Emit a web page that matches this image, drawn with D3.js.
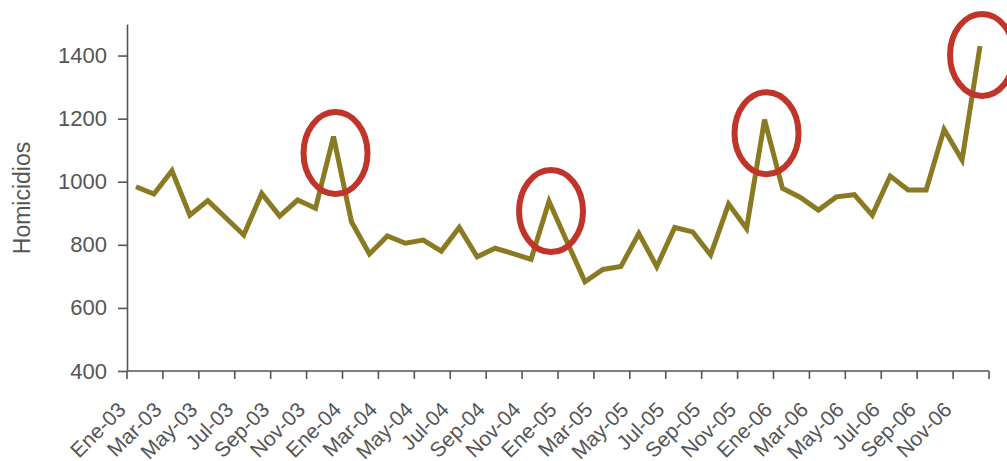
<!DOCTYPE html>
<html>
<head>
<meta charset="utf-8">
<script src="https://cdn.jsdelivr.net/npm/d3@7"></script>
<style>
  body { margin: 0; background: #fff; }
  svg { display: block; }
  text { font-family: "Liberation Sans", Arial, sans-serif; fill: #555; }
</style>
</head>
<body>
<div id="chart"></div>
<script>
const months = ['Ene', 'Feb', 'Mar', 'Abr', 'May', 'Jun', 'Jul', 'Ago', 'Sep', 'Oct', 'Nov', 'Dic'];
const years = ['03', '04', '05', '06'];
const categories = years.flatMap(y => months.map(m => `${m}-${y}`));

// homicidios por mes, Ene-03 .. Dic-06
const homicidios = [
  984, 961, 1035, 894, 940, 886, 831, 963, 891, 942, 916, 1143,
  873, 771, 828, 805, 815, 780, 855, 762, 789, 772, 754, 938,
  810, 683, 722, 731, 836, 731, 855, 841, 768, 929, 852, 1197,
  979, 950, 910, 952, 959, 894, 1018, 974, 974, 1166, 1069, 1430
];

const yTicks = [400, 600, 800, 1000, 1200, 1400];

// red circles around the December peaks (category, centre value)
const marks = [
  { cat: 'Dic-03', value: 1091 },
  { cat: 'Dic-04', value: 907 },
  { cat: 'Dic-05', value: 1154 },
  { cat: 'Dic-06', value: 1402 }
];

const width = 1007, height = 461;
const svg = d3.select('#chart').append('svg').attr('width', width).attr('height', height);

const x = d3.scaleBand().domain(categories).range([127, 989]).padding(0);
const y = d3.scaleLinear().domain([400, 1500]).range([371, 24]);
const cx = d => x(d) + x.bandwidth() / 2;

// y axis
const yAxis = svg.append('g').attr('transform', 'translate(127,0)')
  .call(d3.axisLeft(y).tickValues(yTicks).tickFormat(d3.format('d'))
    .tickSize(9).tickPadding(11).tickSizeOuter(0));
yAxis.select('.domain').attr('stroke', '#555').attr('stroke-width', 1.6);
yAxis.selectAll('.tick line').attr('stroke', '#555').attr('stroke-width', 1.6);
yAxis.selectAll('.tick text').attr('font-size', 22).attr('fill', '#555')
  .attr('font-family', '"Liberation Sans", Arial, sans-serif');

// x axis: ticks every two months on the category boundaries
const tickPos = d3.range(0, categories.length + 1, 2).map(i => 127 + i * x.bandwidth());
const xg = svg.append('g');
xg.append('line')
  .attr('x1', 127).attr('x2', 989).attr('y1', y(400)).attr('y2', y(400))
  .attr('stroke', '#555').attr('stroke-width', 1.6);
xg.selectAll('line.tick')
  .data(tickPos)
  .enter()
  .append('line')
  .attr('class', 'tick')
  .attr('x1', d => d).attr('x2', d => d)
  .attr('y1', y(400)).attr('y2', y(400) + 8)
  .attr('stroke', '#555').attr('stroke-width', 1.6);
xg.selectAll('text')
  .data(categories.filter((d, i) => i % 2 === 0))
  .enter()
  .append('text')
  .attr('transform', d => `translate(${cx(d) - 9},${y(400) + 40}) rotate(-45)`)
  .attr('text-anchor', 'end')
  .attr('font-size', 21)
  .text(d => d);

// y title
svg.append('text')
  .attr('transform', 'translate(30,198) rotate(-90)')
  .attr('text-anchor', 'middle')
  .attr('font-size', 23)
  .text('Homicidios');

// series
svg.append('path')
  .attr('d', d3.line()
    .x((d, i) => cx(categories[i]))
    .y(d => y(d))
  (homicidios))
  .attr('fill', 'none')
  .attr('stroke', '#8a7a22')
  .attr('stroke-width', 5)
  .attr('stroke-linejoin', 'miter');

// annotation circles
svg.selectAll('ellipse')
  .data(marks)
  .enter()
  .append('ellipse')
  .attr('cx', d => cx(d.cat) + 2)
  .attr('cy', d => y(d.value))
  .attr('rx', 32)
  .attr('ry', 41)
  .attr('fill', 'none')
  .attr('stroke', '#c0342a')
  .attr('stroke-width', 6);
</script>
</body>
</html>
